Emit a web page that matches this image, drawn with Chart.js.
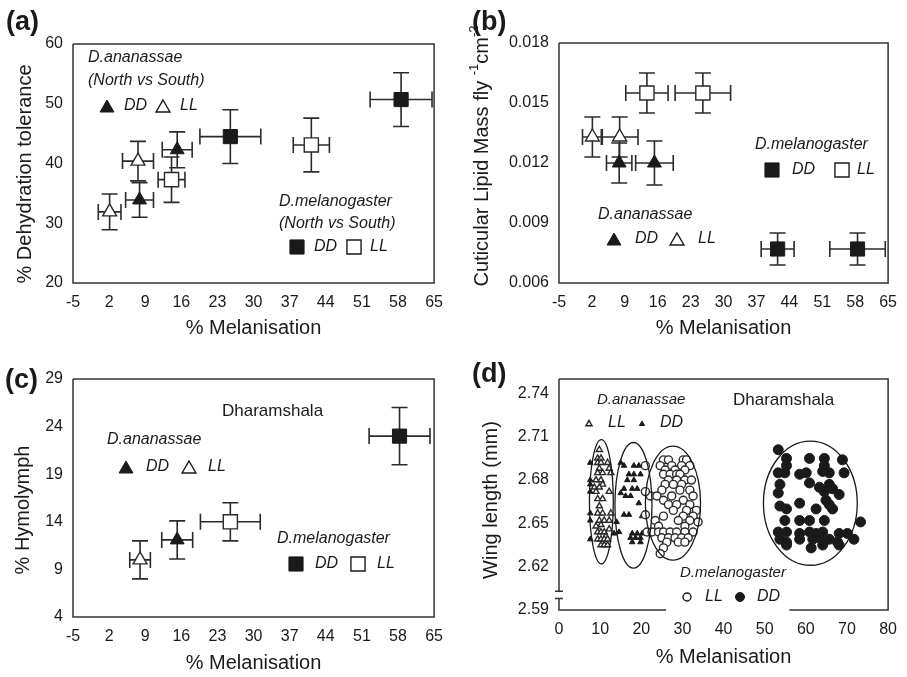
<!DOCTYPE html>
<html>
<head>
<meta charset="utf-8">
<script src="https://cdn.jsdelivr.net/npm/chart.js@4.4.1/dist/chart.umd.min.js"></script>
<style>
    body { margin: 0; background: #fff; }
    #wrap { position: relative; width: 907px; height: 677px; background: #fff; }
    canvas { position: absolute; }
</style>
</head>
<body>
<div id="wrap">
    <canvas id="chartA" width="453" height="340" style="left:0;top:0"></canvas>
    <canvas id="chartB" width="454" height="340" style="left:453px;top:0"></canvas>
    <canvas id="chartC" width="453" height="337" style="left:0;top:340px"></canvas>
    <canvas id="chartD" width="454" height="337" style="left:453px;top:340px"></canvas>
</div>
<script>
// tick labels
var MELAN_TICKS = [-5, 2, 9, 16, 23, 30, 37, 44, 51, 58, 65];
var DEHYD_TICKS = [20, 30, 40, 50, 60];
var LIPID_TICKS = [0.006, 0.009, 0.012, 0.015, 0.018];
var HYMO_TICKS = [4, 9, 14, 19, 24, 29];
var WING_X_TICKS = [0, 10, 20, 30, 40, 50, 60, 70, 80];
var WING_Y_TICKS = [2.59, 2.62, 2.65, 2.68, 2.71, 2.74];

// (a) % melanisation vs % dehydration tolerance
var A_ANA_DD_X = [7.9, 15.2], A_ANA_DD_Y = [33.9, 42.3], A_ANA_DD_XE = [2.7, 2.9], A_ANA_DD_YE = [2.9, 3.0];
var A_ANA_LL_X = [2.1, 7.6], A_ANA_LL_Y = [31.9, 40.4], A_ANA_LL_XE = [2.2, 3.0], A_ANA_LL_YE = [3.0, 3.3];
var A_MEL_DD_X = [25.5, 58.6], A_MEL_DD_Y = [44.5, 50.7], A_MEL_DD_XE = [5.9, 6.0], A_MEL_DD_YE = [4.5, 4.5];
var A_MEL_LL_X = [14.1, 41.2], A_MEL_LL_Y = [37.3, 43.1], A_MEL_LL_XE = [2.6, 3.5], A_MEL_LL_YE = [3.8, 4.5];

// (b) % melanisation vs cuticular lipid mass
var B_ANA_DD_X = [7.8, 15.3], B_ANA_DD_Y = [0.0120, 0.0120], B_ANA_DD_XE = [2.7, 4.0], B_ANA_DD_YE = [0.0010, 0.0011];
var B_ANA_LL_X = [2.1, 7.9], B_ANA_LL_Y = [0.0133, 0.0133], B_ANA_LL_XE = [2.1, 3.9], B_ANA_LL_YE = [0.0010, 0.0010];
var B_MEL_DD_X = [41.5, 58.5], B_MEL_DD_Y = [0.0077, 0.0077], B_MEL_DD_XE = [3.5, 5.9], B_MEL_DD_YE = [0.0008, 0.0008];
var B_MEL_LL_X = [13.7, 25.6], B_MEL_LL_Y = [0.0155, 0.0155], B_MEL_LL_XE = [4.5, 5.9], B_MEL_LL_YE = [0.0010, 0.0010];

// (c) % melanisation vs % hymolymph
var C_ANA_DD_X = [15.2], C_ANA_DD_Y = [12.1], C_ANA_DD_XE = [3.0], C_ANA_DD_YE = [2.0];
var C_ANA_LL_X = [8.0], C_ANA_LL_Y = [10.0], C_ANA_LL_XE = [2.0], C_ANA_LL_YE = [2.0];
var C_MEL_DD_X = [58.3], C_MEL_DD_Y = [23.0], C_MEL_DD_XE = [5.9], C_MEL_DD_YE = [3.0];
var C_MEL_LL_X = [25.5], C_MEL_LL_Y = [14.0], C_MEL_LL_XE = [5.8], C_MEL_LL_YE = [2.0];

// (d) % melanisation vs wing length, individual flies
var D_ANA_LL_X = [9.8, 9.4, 10.2, 9.4, 10.2, 11.8, 9.8, 12.2, 9.4, 10.6, 12.6, 9.0, 10.2, 10.6, 8.6, 9.8, 9.0, 12.2, 9.4, 10.6,
    9.8, 9.4, 10.6, 12.6, 9.8, 11.0, 12.2, 10.2, 9.0, 12.2, 9.4, 10.2, 11.0, 11.4, 9.4, 10.2, 11.0, 11.8, 10.2, 11.0, 11.8];
var D_ANA_LL_Y = [2.701, 2.695, 2.695, 2.692, 2.692, 2.692, 2.688, 2.688, 2.685, 2.685, 2.685, 2.680, 2.680, 2.677, 2.675, 2.675, 2.672, 2.672, 2.667, 2.667,
    2.662, 2.657, 2.657, 2.657, 2.652, 2.652, 2.652, 2.649, 2.648, 2.646, 2.644, 2.644, 2.644, 2.641, 2.639, 2.639, 2.639, 2.639, 2.635, 2.635, 2.635];
var D_ANA_DD_X = [7.6, 7.6, 7.6, 7.6, 7.6, 7.6, 7.6, 13.4, 14.0, 15.0, 15.0, 14.6,
    15.8, 18.2, 19.4, 17.0, 18.2, 19.8, 16.6, 18.2, 15.8, 17.8, 19.0, 16.2, 17.4, 19.4,
    15.8, 17.0, 20.2, 17.8, 19.0, 20.2, 17.4, 18.6, 19.8, 17.8, 19.8];
var D_ANA_DD_Y = [2.692, 2.680, 2.677, 2.672, 2.657, 2.652, 2.639, 2.643, 2.651, 2.692, 2.671, 2.644,
    2.690, 2.690, 2.690, 2.684, 2.684, 2.684, 2.680, 2.680, 2.674, 2.674, 2.674, 2.669, 2.669, 2.664,
    2.656, 2.656, 2.655, 2.643, 2.643, 2.643, 2.640, 2.640, 2.640, 2.637, 2.637];
var D_MEL_LL_X = [25.4, 26.6, 30.2, 31.0, 24.6, 27.4, 29.8, 31.8, 25.8, 28.2, 30.6, 25.4, 27.0, 28.6, 29.4,
    26.6, 28.6, 30.6, 32.2, 25.8, 27.8, 29.8, 25.0, 29.4, 31.8, 22.2, 23.8, 27.4, 32.6, 25.4, 30.2,
    26.6, 28.6, 31.8, 27.8, 31.0, 33.4, 25.4, 30.2, 32.6, 23.4, 29.0, 31.8, 33.8, 24.2, 30.6,
    21.4, 22.6, 24.2, 25.4, 27.0, 28.6, 30.6, 32.6, 25.0, 26.6, 28.2, 29.8, 31.4, 26.2, 29.0, 30.6,
    25.4, 24.6, 21.0, 21.0, 21.0];
var D_MEL_LL_Y = [2.694, 2.694, 2.694, 2.694, 2.690, 2.690, 2.690, 2.690, 2.687, 2.687, 2.687, 2.684, 2.684, 2.684, 2.684,
    2.680, 2.680, 2.680, 2.680, 2.677, 2.677, 2.677, 2.673, 2.673, 2.673, 2.669, 2.669, 2.669, 2.669, 2.666, 2.666,
    2.663, 2.663, 2.663, 2.659, 2.659, 2.659, 2.655, 2.655, 2.655, 2.652, 2.652, 2.652, 2.651, 2.648, 2.648,
    2.644, 2.644, 2.644, 2.644, 2.644, 2.644, 2.644, 2.644, 2.640, 2.640, 2.640, 2.640, 2.640, 2.637, 2.637, 2.637,
    2.633, 2.629, 2.690, 2.672, 2.656];
var D_MEL_DD_X = [53.3, 55.3, 60.9, 64.5, 68.9, 55.3, 64.5, 53.3, 54.9, 58.5, 60.1, 64.1, 65.7, 69.3,
    53.7, 60.9, 63.3, 65.7, 66.5, 53.3, 64.5, 68.1, 58.5, 64.9, 65.7, 53.7, 55.3, 62.5, 66.5,
    54.9, 58.5, 60.9, 64.5, 73.3, 53.3, 55.3, 58.5, 60.9, 62.5, 64.1, 68.1, 70.1,
    53.7, 55.3, 58.5, 61.7, 63.3, 65.7, 67.7, 71.7, 55.3, 61.3, 64.1, 68.1];
var D_MEL_DD_Y = [2.701, 2.695, 2.695, 2.695, 2.694, 2.690, 2.690, 2.685, 2.685, 2.684, 2.685, 2.686, 2.685, 2.685,
    2.677, 2.678, 2.675, 2.677, 2.674, 2.671, 2.672, 2.670, 2.664, 2.666, 2.663, 2.662, 2.660, 2.660, 2.660,
    2.652, 2.652, 2.652, 2.652, 2.651, 2.644, 2.644, 2.643, 2.644, 2.643, 2.644, 2.643, 2.643,
    2.639, 2.637, 2.639, 2.639, 2.640, 2.639, 2.637, 2.639, 2.635, 2.633, 2.635, 2.635];

// (d) group ellipses: centre and half axes in data units
var ELL_CX = [10.3, 18.1, 27.7, 61.1];
var ELL_CY = [2.665, 2.6625, 2.664, 2.664];
var ELL_RX = [2.9, 4.5, 6.7, 11.4];
var ELL_RY = [0.043, 0.0435, 0.0395, 0.043];

var FONT = "'Liberation Sans', Arial, Helvetica, sans-serif";
var INK = '#1a1a1a';
var IT16 = 'italic 16px ' + FONT;
var IT15 = 'italic 15px ' + FONT;
var REG17 = '17px ' + FONT;

Chart.defaults.font.family = FONT;
Chart.defaults.color = INK;

function pts(xs, ys) {
    return xs.map(function (x, i) { return { x: x, y: ys[i] }; });
}

function series(xs, ys, shape, filled, r, xe, ye) {
    return {
        data: pts(xs, ys),
        pointStyle: shape,
        pointRadius: r,
        backgroundColor: filled ? INK : '#fff',
        borderColor: filled ? INK : '#2a2a2a',
        borderWidth: filled ? 1 : 1.4,
        errX: xe,
        errY: ye
    };
}

function drawMark(ctx, shape, x, y, r, filled) {
    ctx.beginPath();
    if (shape === 'tri') {
        ctx.moveTo(x, y - r);
        ctx.lineTo(x + r * 0.866, y + r / 2);
        ctx.lineTo(x - r * 0.866, y + r / 2);
        ctx.closePath();
    } else if (shape === 'sq') {
        var s = r * Math.SQRT1_2;
        ctx.rect(x - s, y - s, 2 * s, 2 * s);
    } else {
        ctx.arc(x, y, r, 0, Math.PI * 2);
    }
    ctx.fillStyle = filled ? INK : '#fff';
    ctx.fill();
    ctx.lineWidth = filled ? 1 : 1.4;
    ctx.strokeStyle = INK;
    ctx.stroke();
}

var errorBars = {
    id: 'errorBars',
    beforeDatasetsDraw: function (chart) {
        var ctx = chart.ctx, xs = chart.scales.x, ys = chart.scales.y, c = 8;
        ctx.save();
        ctx.strokeStyle = '#2b2b2b';
        ctx.lineWidth = 1.6;
        chart.data.datasets.forEach(function (ds) {
            if (!ds.errX) return;
            ds.data.forEach(function (p, i) {
                var cx = xs.getPixelForValue(p.x), cy = ys.getPixelForValue(p.y);
                var x0 = xs.getPixelForValue(p.x - ds.errX[i]), x1 = xs.getPixelForValue(p.x + ds.errX[i]);
                var y0 = ys.getPixelForValue(p.y - ds.errY[i]), y1 = ys.getPixelForValue(p.y + ds.errY[i]);
                ctx.beginPath();
                ctx.moveTo(x0, cy); ctx.lineTo(x1, cy);
                ctx.moveTo(x0, cy - c); ctx.lineTo(x0, cy + c);
                ctx.moveTo(x1, cy - c); ctx.lineTo(x1, cy + c);
                ctx.moveTo(cx, y0); ctx.lineTo(cx, y1);
                ctx.moveTo(cx - c, y0); ctx.lineTo(cx + c, y0);
                ctx.moveTo(cx - c, y1); ctx.lineTo(cx + c, y1);
                ctx.stroke();
            });
        });
        ctx.restore();
    }
};

function makeDecor(d) {
    return {
        id: 'decor',
        afterDraw: function (chart) {
            var ctx = chart.ctx, a = chart.chartArea, xs = chart.scales.x, ys = chart.scales.y;
            ctx.save();

            if (d.ellipses) {
                ctx.strokeStyle = INK;
                ctx.lineWidth = 1.3;
                ELL_CX.forEach(function (cx, i) {
                    var px = xs.getPixelForValue(cx), py = ys.getPixelForValue(ELL_CY[i]);
                    var rx = Math.abs(xs.getPixelForValue(cx + ELL_RX[i]) - px);
                    var ry = Math.abs(ys.getPixelForValue(ELL_CY[i] + ELL_RY[i]) - py);
                    ctx.beginPath();
                    ctx.ellipse(px, py, rx, ry, 0, 0, Math.PI * 2);
                    ctx.stroke();
                });
            }

            // plot frame
            ctx.strokeStyle = '#333';
            ctx.lineWidth = 1.5;
            ctx.beginPath();
            ctx.moveTo(a.left, a.top);
            ctx.lineTo(a.right, a.top);
            ctx.lineTo(a.right, a.bottom);
            if (d.gapX) {
                ctx.lineTo(xs.getPixelForValue(d.gapX[1]), a.bottom);
                ctx.moveTo(xs.getPixelForValue(d.gapX[0]), a.bottom);
            }
            ctx.lineTo(a.left, a.bottom);
            if (d.breakY) {
                var b0 = ys.getPixelForValue(d.breakY[0]), b1 = ys.getPixelForValue(d.breakY[1]);
                ctx.lineTo(a.left, b0);
                ctx.moveTo(a.left - 4, b0); ctx.lineTo(a.left + 4, b0);
                ctx.moveTo(a.left - 4, b1); ctx.lineTo(a.left + 4, b1);
                ctx.moveTo(a.left, b1);
            }
            ctx.lineTo(a.left, a.top);
            ctx.stroke();

            // panel letter
            ctx.fillStyle = INK;
            ctx.textAlign = 'left';
            ctx.textBaseline = 'alphabetic';
            ctx.font = 'bold 27px ' + FONT;
            ctx.fillText(d.label[0], d.label[1], d.label[2]);

            // y axis title, rotated, with optional superscripts
            ctx.save();
            ctx.translate(d.yTitle.x, d.yTitle.y);
            ctx.rotate(-Math.PI / 2);
            ctx.textBaseline = 'middle';
            var total = 0;
            d.yTitle.parts.forEach(function (p) {
                ctx.font = p[1] + 'px ' + FONT;
                total += ctx.measureText(p[0]).width;
            });
            var cur = -total / 2;
            d.yTitle.parts.forEach(function (p) {
                ctx.font = p[1] + 'px ' + FONT;
                ctx.fillText(p[0], cur, -(p[2] || 0));
                cur += ctx.measureText(p[0]).width;
            });
            ctx.restore();

            // in-plot legend text and symbols
            ctx.textBaseline = 'middle';
            d.notes.forEach(function (n) {
                var x = a.left + n[1], y = a.top + n[2];
                if (n[0] === 't') {
                    ctx.font = n[4];
                    ctx.fillStyle = INK;
                    ctx.fillText(n[3], x, y);
                } else {
                    drawMark(ctx, n[3], x, y, n[5], n[4]);
                }
            });
            ctx.restore();
        }
    };
}

function makeChart(id, box, xCfg, yCfg, datasets, decor) {
    var cv = document.getElementById(id);
    var W = cv.width, H = cv.height;
    return new Chart(cv.getContext('2d'), {
        type: 'scatter',
        data: { datasets: datasets },
        options: {
            responsive: false,
            animation: false,
            events: [],
            layout: { padding: { left: 0, top: box.top, right: W - box.right, bottom: 0 } },
            plugins: { legend: { display: false }, tooltip: { enabled: false } },
            scales: {
                x: {
                    type: 'linear', min: xCfg.min, max: xCfg.max,
                    grid: { display: false, drawTicks: false },
                    border: { display: false },
                    afterBuildTicks: function (s) { s.ticks = xCfg.ticks.map(function (v) { return { value: v }; }); },
                    afterFit: function (s) { s.height = H - box.bottom; },
                    ticks: {
                        padding: 10, color: INK, font: { size: 16 }, maxRotation: 0, autoSkip: false,
                        callback: function (v) { return v.toFixed(xCfg.dec); }
                    },
                    title: {
                        display: true, text: '% Melanisation', color: INK, font: { size: 20 },
                        padding: { top: 0, bottom: xCfg.titlePad }
                    }
                },
                y: {
                    type: 'linear', min: yCfg.min, max: yCfg.max,
                    grid: { display: false, drawTicks: false },
                    border: { display: false },
                    afterBuildTicks: function (s) { s.ticks = yCfg.ticks.map(function (v) { return { value: v }; }); },
                    afterFit: function (s) { s.width = box.left; },
                    ticks: {
                        padding: 10, color: INK, font: { size: 16 }, autoSkip: false,
                        callback: function (v) { return v.toFixed(yCfg.dec); }
                    }
                }
            }
        },
        plugins: [errorBars, makeDecor(decor)]
    });
}

// (a)
makeChart('chartA', { left: 73, top: 44, right: 435, bottom: 283 },
    { min: -5, max: 65, ticks: MELAN_TICKS, dec: 0, titlePad: 0 },
    { min: 20, max: 60, ticks: DEHYD_TICKS, dec: 0 },
    [
        series(A_ANA_DD_X, A_ANA_DD_Y, 'triangle', true, 8, A_ANA_DD_XE, A_ANA_DD_YE),
        series(A_ANA_LL_X, A_ANA_LL_Y, 'triangle', false, 8, A_ANA_LL_XE, A_ANA_LL_YE),
        series(A_MEL_DD_X, A_MEL_DD_Y, 'rect', true, 10, A_MEL_DD_XE, A_MEL_DD_YE),
        series(A_MEL_LL_X, A_MEL_LL_Y, 'rect', false, 10, A_MEL_LL_XE, A_MEL_LL_YE)
    ],
    {
        label: ['(a)', 6, 30],
        yTitle: { x: 25, y: 174, parts: [['% Dehydration tolerance', 20]] },
        notes: [
            ['t', 15, 14, 'D.ananassae', IT16],
            ['t', 15, 37, '(North vs South)', IT16],
            ['m', 34, 64, 'tri', true, 8],
            ['t', 51, 62, 'DD', IT16],
            ['m', 90, 64, 'tri', false, 8],
            ['t', 107, 62, 'LL', IT16],
            ['t', 206, 158, 'D.melanogaster', IT16],
            ['t', 206, 180, '(North vs South)', IT16],
            ['m', 224, 203, 'sq', true, 10],
            ['t', 241, 203, 'DD', IT16],
            ['m', 281, 203, 'sq', false, 10],
            ['t', 297, 203, 'LL', IT16]
        ]
    });

// (b)
makeChart('chartB', { left: 106, top: 43, right: 440, bottom: 283 },
    { min: -5, max: 65, ticks: MELAN_TICKS, dec: 0, titlePad: 0 },
    { min: 0.006, max: 0.018, ticks: LIPID_TICKS, dec: 3 },
    [
        series(B_ANA_DD_X, B_ANA_DD_Y, 'triangle', true, 8, B_ANA_DD_XE, B_ANA_DD_YE),
        series(B_ANA_LL_X, B_ANA_LL_Y, 'triangle', false, 8, B_ANA_LL_XE, B_ANA_LL_YE),
        series(B_MEL_DD_X, B_MEL_DD_Y, 'rect', true, 10, B_MEL_DD_XE, B_MEL_DD_YE),
        series(B_MEL_LL_X, B_MEL_LL_Y, 'rect', false, 10, B_MEL_LL_XE, B_MEL_LL_YE)
    ],
    {
        label: ['(b)', 19, 30],
        yTitle: { x: 29, y: 156, parts: [['Cuticular Lipid Mass fly ', 20], ['-1', 13, 8], ['cm', 20], ['-2', 13, 8]] },
        notes: [
            ['t', 196, 102, 'D.melanogaster', IT16],
            ['m', 213, 127, 'sq', true, 10],
            ['t', 233, 127, 'DD', IT16],
            ['m', 283, 127, 'sq', false, 10],
            ['t', 298, 127, 'LL', IT16],
            ['t', 39, 172, 'D.ananassae', IT16],
            ['m', 55, 198, 'tri', true, 8],
            ['t', 76, 196, 'DD', IT16],
            ['m', 118, 198, 'tri', false, 8],
            ['t', 139, 196, 'LL', IT16]
        ]
    });

// (c)
makeChart('chartC', { left: 73, top: 39, right: 435, bottom: 277 },
    { min: -5, max: 65, ticks: MELAN_TICKS, dec: 0, titlePad: 2 },
    { min: 4, max: 29, ticks: HYMO_TICKS, dec: 0 },
    [
        series(C_ANA_DD_X, C_ANA_DD_Y, 'triangle', true, 8, C_ANA_DD_XE, C_ANA_DD_YE),
        series(C_ANA_LL_X, C_ANA_LL_Y, 'triangle', false, 8, C_ANA_LL_XE, C_ANA_LL_YE),
        series(C_MEL_DD_X, C_MEL_DD_Y, 'rect', true, 10, C_MEL_DD_XE, C_MEL_DD_YE),
        series(C_MEL_LL_X, C_MEL_LL_Y, 'rect', false, 10, C_MEL_LL_XE, C_MEL_LL_YE)
    ],
    {
        label: ['(c)', 5, 48],
        yTitle: { x: 23, y: 170, parts: [['% Hymolymph', 20]] },
        notes: [
            ['t', 149, 32, 'Dharamshala', REG17],
            ['t', 34, 61, 'D.ananassae', IT16],
            ['m', 53, 90, 'tri', true, 8],
            ['t', 73, 88, 'DD', IT16],
            ['m', 116, 90, 'tri', false, 8],
            ['t', 135, 88, 'LL', IT16],
            ['t', 204, 160, 'D.melanogaster', IT16],
            ['m', 223, 185, 'sq', true, 10],
            ['t', 242, 185, 'DD', IT16],
            ['m', 285, 185, 'sq', false, 10],
            ['t', 304, 185, 'LL', IT16]
        ]
    });

// (d)
makeChart('chartD', { left: 106, top: 39, right: 440, bottom: 270 },
    { min: 0, max: 80, ticks: WING_X_TICKS, dec: 0, titlePad: 8 },
    { min: 2.59, max: 2.75, ticks: WING_Y_TICKS, dec: 2 },
    [
        series(D_MEL_DD_X, D_MEL_DD_Y, 'circle', true, 5),
        series(D_MEL_LL_X, D_MEL_LL_Y, 'circle', false, 4),
        series(D_ANA_DD_X, D_ANA_DD_Y, 'triangle', true, 3.2),
        series(D_ANA_LL_X, D_ANA_LL_Y, 'triangle', false, 3.5)
    ],
    {
        label: ['(d)', 19, 42],
        ellipses: true,
        gapX: [26, 56],
        breakY: [2.598, 2.603],
        yTitle: { x: 38, y: 160, parts: [['Wing length (mm)', 20]] },
        notes: [
            ['t', 38, 21, 'D.ananassae', IT15],
            ['t', 174, 21, 'Dharamshala', REG17],
            ['m', 30, 45, 'tri', false, 3.5],
            ['t', 49, 44, 'LL', IT16],
            ['m', 83, 45, 'tri', true, 3],
            ['t', 101, 44, 'DD', IT16],
            ['t', 121, 194, 'D.melanogaster', IT15],
            ['m', 128, 218, 'circle', false, 4],
            ['t', 146, 218, 'LL', IT16],
            ['m', 181, 218, 'circle', true, 4.5],
            ['t', 198, 218, 'DD', IT16]
        ]
    });
</script>
</body>
</html>
